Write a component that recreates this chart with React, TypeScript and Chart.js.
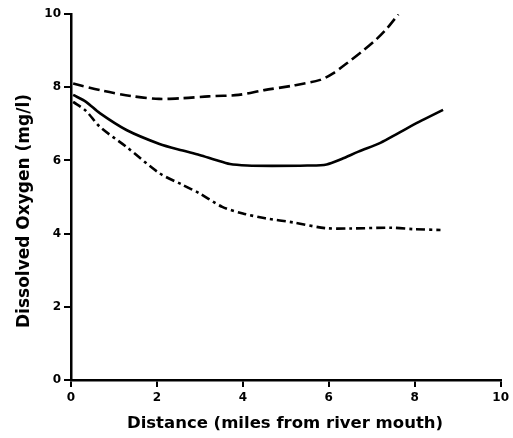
import React, { useEffect, useRef } from "react";
import { Chart, registerables } from "chart.js";

Chart.register(...registerables);

const xTitle = "Distance (miles from river mouth)";
const yTitle = "Dissolved Oxygen (mg/l)";
const tickValues = [0, 2, 4, 6, 8, 10];

// Upper curve (long dashes)
const upperX = [0.05, 0.75, 1.4, 2.05, 2.6, 3.2, 3.9, 4.5, 5.15, 5.8, 6.1, 6.45, 6.8, 7.1, 7.35, 7.62];
const upperY = [8.1, 7.9, 7.76, 7.68, 7.7, 7.75, 7.79, 7.92, 8.04, 8.2, 8.38, 8.68, 9.0, 9.3, 9.6, 9.99];

// Middle curve (solid)
const middleX = [0.05, 0.35, 0.67, 1.29, 2.06, 2.6, 2.99, 3.35, 3.7, 4.1, 4.68, 5.5, 5.95, 6.3, 6.69, 7.2, 7.61, 8.1, 8.66];
const middleY = [7.79, 7.6, 7.29, 6.83, 6.45, 6.27, 6.15, 6.02, 5.9, 5.86, 5.85, 5.86, 5.89, 6.04, 6.24, 6.48, 6.74, 7.05, 7.38];

// Lower curve (dash-dot)
const lowerX = [0.05, 0.35, 0.67, 1.29, 2.06, 2.6, 2.99, 3.52, 4.0, 4.52, 5.2, 5.91, 6.5, 7.45, 8.0, 8.6];
const lowerY = [7.6, 7.35, 6.92, 6.37, 5.65, 5.33, 5.1, 4.73, 4.55, 4.42, 4.3, 4.15, 4.14, 4.16, 4.12, 4.1];

const toPts = (xs: number[], ys: number[]) => xs.map((x, i) => ({ x, y: ys[i] }));

const FONT = "'DejaVu Sans', sans-serif";

export default function App() {
  const ref = useRef<HTMLCanvasElement | null>(null);

  useEffect(() => {
    if (!ref.current) return;
    const titlePlugin = {
      id: "axisTitles",
      afterDraw(chart: any) {
        const ctx = chart.ctx;
        ctx.save();
        ctx.fillStyle = "#000";
        ctx.textAlign = "center";
        ctx.textBaseline = "alphabetic";
        ctx.font = `bold 16.5px ${FONT}`;
        ctx.fillText(xTitle, 285, 428);
        ctx.font = `bold 17px ${FONT}`;
        ctx.translate(29, 211);
        ctx.rotate(-Math.PI / 2);
        ctx.fillText(yTitle, 0, 0);
        ctx.restore();
      },
    };
    const common = {
      borderColor: "#000",
      borderWidth: 2.6,
      pointRadius: 0,
      fill: false,
      tension: 0.3,
    };
    const chart = new Chart(ref.current, {
      type: "line",
      data: {
        datasets: [
          { ...common, label: "upper", data: toPts(upperX, upperY), borderDash: [11, 5] },
          { ...common, label: "middle", data: toPts(middleX, middleY) },
          { ...common, label: "lower", data: toPts(lowerX, lowerY), borderDash: [9, 4, 3, 4] },
        ],
      },
      options: {
        animation: false,
        responsive: true,
        maintainAspectRatio: false,
        layout: { padding: { top: 14, right: 11, left: 0, bottom: 0 } },
        plugins: { legend: { display: false }, tooltip: { enabled: false } },
        scales: {
          x: {
            type: "linear",
            min: 0,
            max: 10,
            afterBuildTicks: (s: any) => {
              s.ticks = tickValues.map((v) => ({ value: v }));
            },
            afterFit: (s: any) => {
              s.height = 58;
            },
            border: { display: true, color: "#000", width: 2.5 },
            grid: { display: true, drawOnChartArea: false, drawTicks: true, tickLength: 7, color: "#000", lineWidth: 2 },
            ticks: { color: "#000", font: { family: FONT, size: 12, weight: "bold" }, padding: 4, maxRotation: 0 },
          },
          y: {
            type: "linear",
            min: 0,
            max: 10,
            afterBuildTicks: (s: any) => {
              s.ticks = tickValues.map((v) => ({ value: v }));
            },
            afterFit: (s: any) => {
              s.width = 71;
            },
            border: { display: true, color: "#000", width: 2.5 },
            grid: { display: true, drawOnChartArea: false, drawTicks: true, tickLength: 7, color: "#000", lineWidth: 2 },
            ticks: { color: "#000", font: { family: FONT, size: 12, weight: "bold" }, padding: 3 },
          },
        },
      },
      plugins: [titlePlugin],
    });
    return () => chart.destroy();
  }, []);

  return (
    <div style={{ position: "fixed", left: 0, top: 0, width: 513, height: 438, background: "#fff" }}>
      <canvas ref={ref} />
    </div>
  );
}
